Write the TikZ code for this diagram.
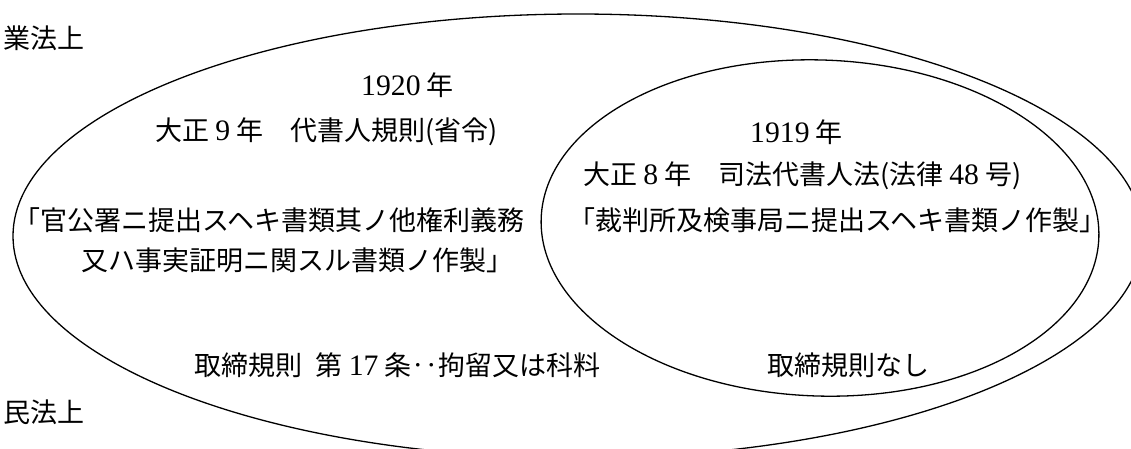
\documentclass[tikz,border=0pt]{standalone}
\usepackage{fontspec}
\setmainfont{Noto Sans CJK JP}
\newfontfamily\lat[Scale=1.1]{Liberation Serif}
\tikzset{
  lbl/.style={anchor=west, inner sep=0pt, font=\fontsize{27}{31}\selectfont},
  ring/.style={draw=black, line width=1.3pt}
}
\begin{document}
\begin{tikzpicture}[x=1pt, y=-1pt]
\useasboundingbox (0,0) rectangle (1131,448);
\begin{scope}
\clip (0,0) rectangle (1131,448);
\draw[ring] (578,236) ellipse [x radius=565, y radius=222];
\draw[ring, rotate around={-2:(820,228)}] (820,228) ellipse [x radius=279, y radius=168];
\end{scope}
\node[lbl] (gyo) at (3,38) {業法上};
\node[lbl] (minpo) at (3,412) {民法上};
\node[lbl] (y1920) at (361,85) {{\lat 1920} 年};
\node[lbl] (t9) at (155,132) {大正 {\lat 9} 年　代書人規則(省令)};
\node[lbl] (l1) at (13,220) {「官公署ニ提出スヘキ書類其ノ他権利義務};
\node[lbl] (l2) at (81,260) {又ハ事実証明ニ関スル書類ノ作製」};
\node[lbl] (tori1) at (194,365) {取締規則\hspace{0.5em}第 {\lat 17} 条‥拘留又は科料};
\node[lbl] (y1919) at (750,132) {{\lat 1919} 年};
\node[lbl] (t8) at (583,176) {大正 {\lat 8} 年　司法代書人法(法律 {\lat 48} 号)};
\node[lbl] (l3) at (568,220) {「裁判所及検事局ニ提出スヘキ書類ノ作製」};
\node[lbl] (tori2) at (767,365) {取締規則なし};
\end{tikzpicture}
\end{document}
